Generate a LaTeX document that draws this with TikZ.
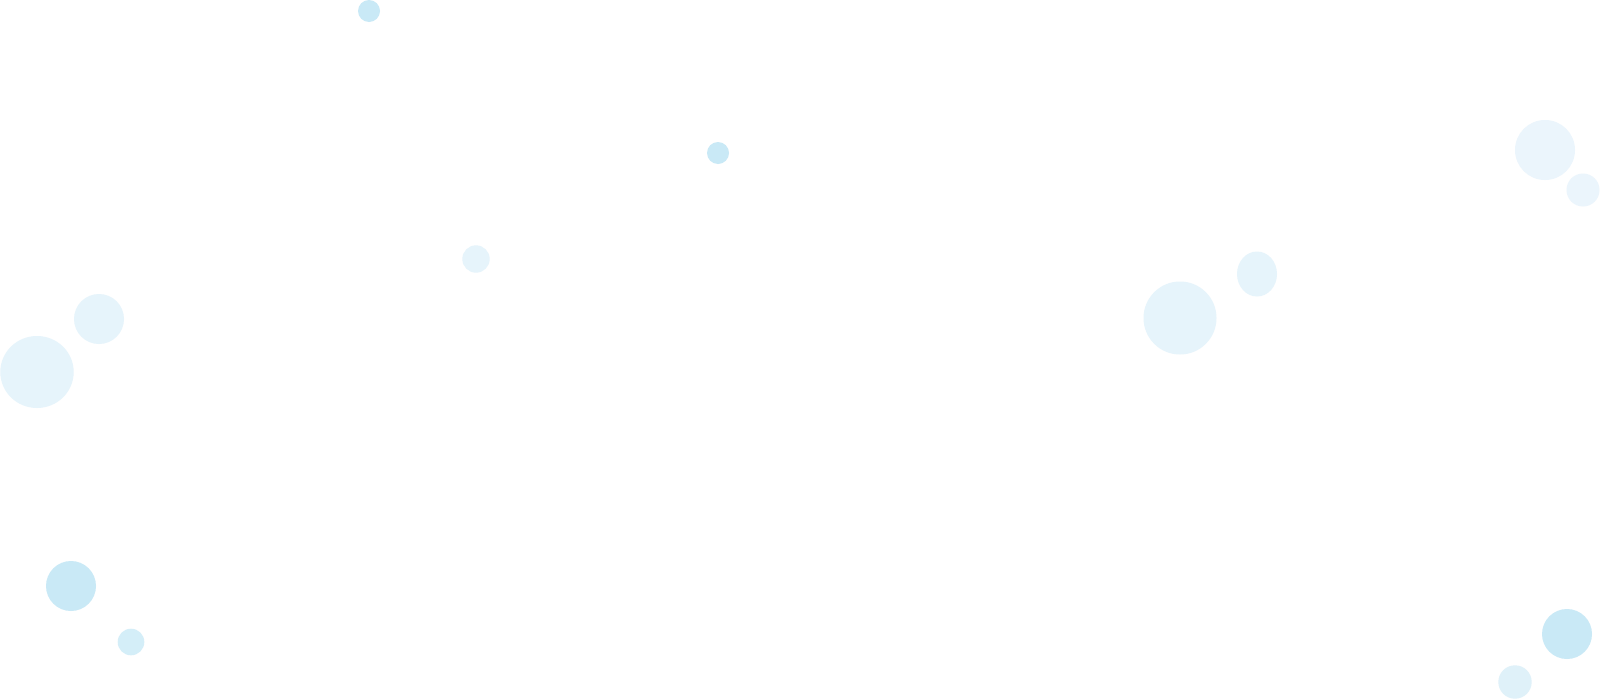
\documentclass[tikz,border=0pt]{standalone}
\definecolor{bubA}{HTML}{C9E9F6}
\definecolor{bubB}{HTML}{D4EEF8}
\definecolor{bubC}{HTML}{DFF1F9}
\definecolor{bubD}{HTML}{E6F4FB}
\definecolor{bubE}{HTML}{EBF5FC}
\begin{document}
\begin{tikzpicture}[x=1pt,y=-1pt,
  dotA/.style={fill=bubA},
  dotB/.style={fill=bubB},
  dotC/.style={fill=bubC},
  dotD/.style={fill=bubD},
  dotE/.style={fill=bubE}]
\useasboundingbox (0,0) rectangle (1600,699);
\fill[white] (0,0) rectangle (1600,699);
% top / middle small saturated dots
\fill[dotA] (369,11) circle (11);
\fill[dotA] (718,153) circle (11);
% left light dots
\fill[dotD] (476,259) circle (13.7);
\fill[dotD] (99,319) circle (25);
\fill[dotD] (37,372) ellipse (36.7 and 36);
% bottom left
\fill[dotA] (71,586) circle (25);
\fill[dotB] (131,642) circle (13.3);
% right middle
\fill[dotD] (1180,318) circle (36.5);
\fill[dotD] (1257,274) ellipse (20 and 22.5);
% top right
\fill[dotE] (1545,150) circle (30);
\fill[dotE] (1583,190) circle (16.5);
% bottom right
\fill[dotA] (1567,634) circle (25);
\fill[dotC] (1515,682) circle (16.7);
\end{tikzpicture}
\end{document}
